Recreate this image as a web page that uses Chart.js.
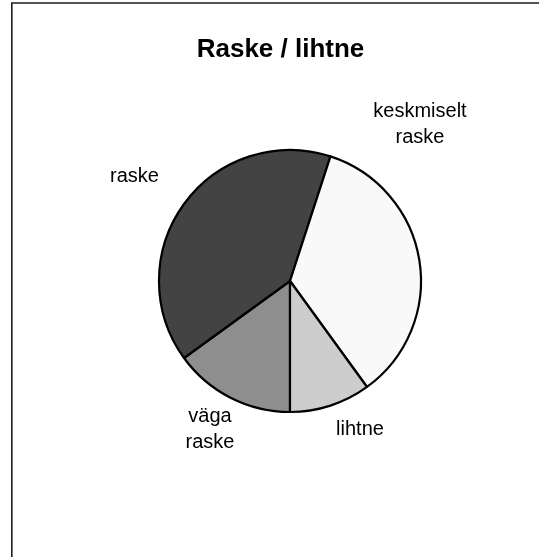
<!DOCTYPE html>
<html><head><meta charset="utf-8">
<script src="https://cdn.jsdelivr.net/npm/chart.js@4/dist/chart.umd.min.js"></script>
<style>html,body{margin:0;padding:0;background:#fff;}#wrap{position:relative;width:539px;height:557px;}</style>
</head><body><div id="wrap"><canvas id="c" width="539" height="557"></canvas></div>
<script>
const TITLE = 'Raske / lihtne';
const categories = ['väga raske', 'raske', 'keskmiselt raske', 'lihtne'];
const values = [15, 40, 35, 10];
const labelLines = [['väga', 'raske'], ['raske'], ['keskmiselt', 'raske'], ['lihtne']];
const sliceColors = ['#8e8e8e', '#434343', '#f9f9f9', '#cdcdcd'];

// label placement relative to pie centre, in units of pie radius (first-line baseline)
const R = 131;
const labelOffsets = [[-80 / R, 141 / R], [-155.5 / R, -99 / R], [130 / R, -164 / R], [70 / R, 154 / R]];

const FONT = '"Liberation Sans", Arial, sans-serif';

const decor = {
  id: 'decor',
  beforeDraw(chart) {
    const ctx = chart.ctx;
    ctx.save();
    ctx.fillStyle = '#fff';
    ctx.fillRect(0, 0, chart.width, chart.height);
    ctx.strokeStyle = '#1e1e1e';
    ctx.lineWidth = 1.6;
    ctx.beginPath();
    ctx.moveTo(11.8, chart.height + 2);
    ctx.lineTo(11.8, 3);
    ctx.lineTo(chart.width + 2, 3);
    ctx.stroke();
    ctx.restore();
  },
  afterDatasetsDraw(chart) {
    const ctx = chart.ctx;
    const meta = chart.getDatasetMeta(0);
    ctx.save();
    ctx.fillStyle = '#000';
    ctx.textAlign = 'center';
    ctx.textBaseline = 'alphabetic';
    ctx.font = 'bold 26px ' + FONT;
    ctx.fillText(TITLE, 280.5, 57);
    ctx.font = '20px ' + FONT;
    meta.data.forEach((arc, i) => {
      const p = arc.getProps(['x', 'y', 'outerRadius'], true);
      const lx = p.x + labelOffsets[i][0] * p.outerRadius;
      const ly = p.y + labelOffsets[i][1] * p.outerRadius;
      labelLines[i].forEach((t, j) => ctx.fillText(t, lx, ly + j * 25.5));
    });
    ctx.restore();
  }
};

new Chart(document.getElementById('c'), {
  type: 'pie',
  data: {
    labels: categories,
    datasets: [{
      data: values,
      backgroundColor: sliceColors,
      borderColor: '#000',
      borderWidth: 2.2,
      hoverOffset: 0
    }]
  },
  options: {
    responsive: false,
    animation: false,
    devicePixelRatio: 1,
    rotation: 180,
    radius: R,
    layout: { padding: { left: 100, right: 59, top: 100, bottom: 95 } },
    plugins: { legend: { display: false }, title: { display: false }, tooltip: { enabled: false } }
  },
  plugins: [decor]
});
</script></body></html>
